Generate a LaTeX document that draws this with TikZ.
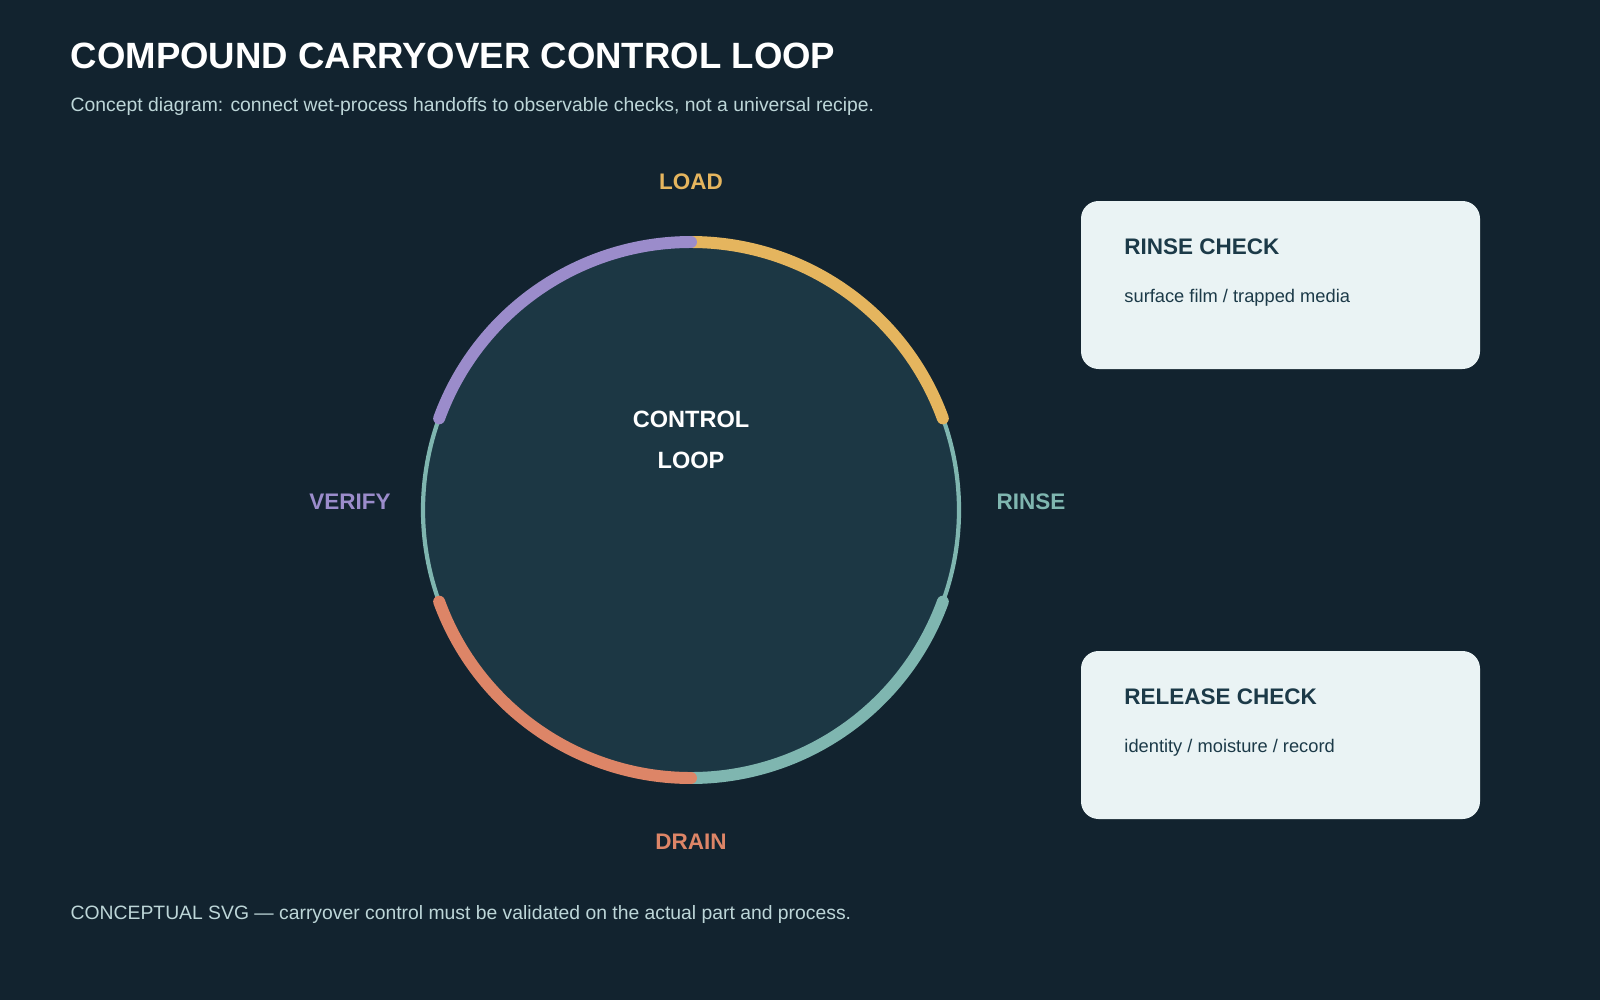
\documentclass[tikz,border=0pt]{standalone}
\usepackage{fontspec}
\setmainfont{Liberation Sans}
\begin{document}
\definecolor{bg}{HTML}{12232F}
\definecolor{disc}{HTML}{1C3744}
\definecolor{cy}{HTML}{E5B55E}
\definecolor{ct}{HTML}{7FB6B0}
\definecolor{co}{HTML}{DD8567}
\definecolor{cp}{HTML}{9B8CCB}
\definecolor{boxc}{HTML}{EAF3F4}
\definecolor{boxt}{HTML}{1C3A48}
\definecolor{sub}{HTML}{BDD6D8}
\begin{tikzpicture}[x=0.01cm,y=-0.01cm,
  arcseg/.style={line width=3.4pt,line cap=round},
  lab/.style={font=\fontsize{6.4}{7}\selectfont\bfseries},
  card/.style={fill=boxc,rounded corners=5pt},
  ctitle/.style={anchor=west,text=boxt,font=\fontsize{6.4}{7}\selectfont\bfseries},
  ctext/.style={anchor=west,text=boxt,font=\fontsize{5.2}{6}\selectfont}]
\fill[bg] (0,0) rectangle (1600,1000);
\useasboundingbox (0,0) rectangle (1600,1000);
\node[anchor=base west,text=white,font=\fontsize{10.4}{12}\selectfont\bfseries,inner sep=0] (title) at (70,68) {COMPOUND CARRYOVER CONTROL LOOP};
\node[anchor=base west,text=sub,font=\fontsize{5.5}{6}\selectfont,inner sep=0] (subt) at (70,111) {Concept diagram: connect wet-process handoffs to observable checks, not a universal recipe.};
\coordinate (c) at (691,510);
\fill[disc] (c) circle (268);
\draw[ct,line width=1.2pt] (c) circle (268);
\draw[arcseg,cy] (c) ++(-90:268) arc[start angle=-90,end angle=-20,radius=268];
\draw[arcseg,ct] (c) ++(20:268) arc[start angle=20,end angle=90,radius=268];
\draw[arcseg,co] (c) ++(90:268) arc[start angle=90,end angle=160,radius=268];
\draw[arcseg,cp] (c) ++(-160:268) arc[start angle=-160,end angle=-90,radius=268];
\node[lab,text=white,align=center,font=\fontsize{6.7}{11.5}\selectfont\bfseries] (center) at (691,440) {CONTROL\\LOOP};
\node[lab,text=cy] (load) at (691,182) {LOAD};
\node[lab,text=ct] (rinse) at (1031,502) {RINSE};
\node[lab,text=cp] (verify) at (350,502) {VERIFY};
\node[lab,text=co] (drain) at (691,842) {DRAIN};
\fill[card] (1081,201) rectangle (1480,369);
\node[ctitle] (rt) at (1112,247) {RINSE CHECK};
\node[ctext] (rx) at (1112,298) {surface film / trapped media};
\fill[card] (1081,651) rectangle (1480,819);
\node[ctitle] (lt) at (1112,697) {RELEASE CHECK};
\node[ctext] (lx) at (1112,748) {identity / moisture / record};
\node[anchor=base west,text=sub,font=\fontsize{5.5}{6}\selectfont,inner sep=0] (foot) at (70,919) {CONCEPTUAL SVG — carryover control must be validated on the actual part and process.};
\end{tikzpicture}
\end{document}
